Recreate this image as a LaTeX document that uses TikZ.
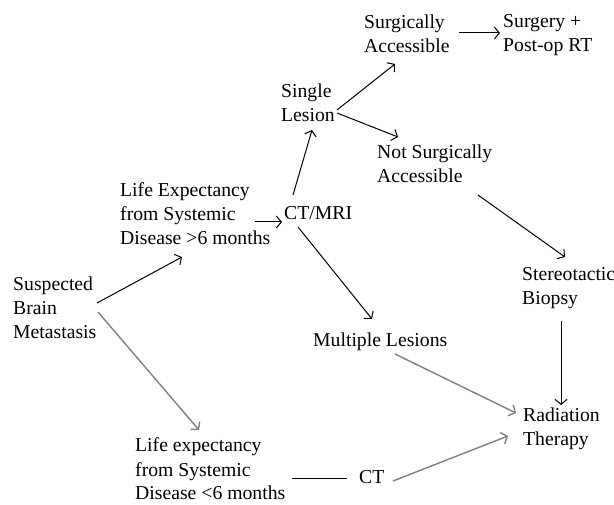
\documentclass[tikz,border=0pt]{standalone}
\usepackage{fontspec}
\setmainfont{Liberation Serif}
\usetikzlibrary{arrows.meta,calc}
\begin{document}
\begin{tikzpicture}[x=1pt,y=-1pt,
  lbl/.style={anchor=base west,inner sep=0pt,align=left,
    font=\fontsize{19.7}{24}\selectfont},
  arr/.style={line width=1pt,-{Straight Barb[length=5pt,width=12pt]}},
  garr/.style={arr,draw=black!50,line width=1.4pt},
  plain/.style={line width=1pt}]
\useasboundingbox[fill=white] (0,0) rectangle (614,505);
% base west = baseline of the LAST line of each text
\node[lbl] (sa)   at (364,53)  {Surgically\\Accessible};
\node[lbl] (sp)   at (503,52)  {Surgery +\\Post-op RT};
\node[lbl] (sl)   at (281,122) {Single\\Lesion};
\node[lbl] (nsa)  at (377,183) {Not Surgically\\Accessible};
\node[lbl] (le1)  at (120,245) {Life Expectancy\\from Systemic\\Disease >6 months};
\node[lbl] (ctm)  at (284,220) {CT/MRI};
\node[lbl] (sbm)  at (13,339)  {Suspected\\Brain\\Metastasis};
\node[lbl] (st)   at (522,305) {Stereotactic\\Biopsy};
\node[lbl] (ml)   at (313,347) {Multiple Lesions};
\node[lbl] (rt)   at (523,446) {Radiation\\Therapy};
\node[lbl] (le2)  at (135,500) {Life expectancy\\from Systemic\\Disease <6 months};
\node[lbl] (ct)   at (359,483) {CT};
% connectors
\draw[arr]  ($(sbm.base west)+(84,-36)$) -- ($(le1.base west)+(62,12)$);
\draw[garr] ($(sbm.base west)+(85,-27)$) -- ($(le2.base west)+(64,-70)$);
\draw[arr]  ($(le1.base west)+(135,-23)$) -- ($(ctm.base west)+(-2,2)$);
\draw[arr]  ($(ctm.base west)+(9,-25)$) -- ($(sl.base west)+(31,8)$);
\draw[arr]  ($(ctm.base west)+(14,7)$) -- ($(ml.base west)+(59,-28)$);
\draw[arr]  ($(sl.base west)+(56,-12)$) -- ($(sa.base west)+(31,11)$);
\draw[arr]  ($(sl.base west)+(56,-9)$) -- ($(nsa.base west)+(21,-46)$);
\draw[arr]  ($(sa.base west)+(95,-20)$) -- ($(sp.base west)+(-3,-19)$);
\draw[arr]  ($(nsa.base west)+(101,12)$) -- ($(st.base west)+(43,-48)$);
\draw[arr]  ($(st.base west)+(39,16)$) -- ($(rt.base west)+(38,-41)$);
\draw[garr] ($(ml.base west)+(82,7)$) -- ($(rt.base west)+(-7,-33)$);
\draw[plain] ($(le2.base west)+(157,-22)$) -- ($(ct.base west)+(-12,-5)$);
\draw[garr] ($(ct.base west)+(34,-2)$) -- ($(rt.base west)+(-15,-10)$);
\end{tikzpicture}
\end{document}
